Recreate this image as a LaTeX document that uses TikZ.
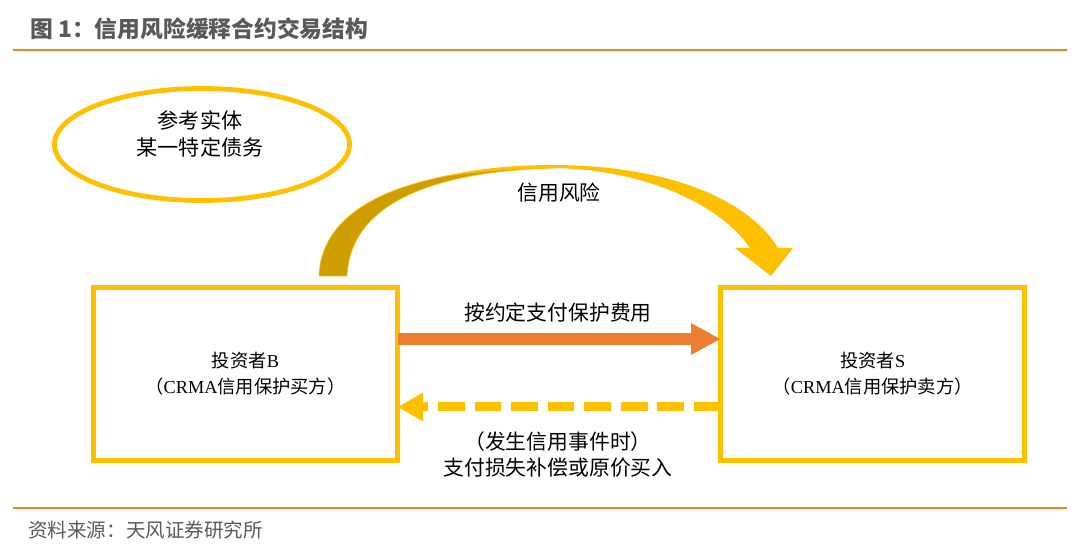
\documentclass[tikz,border=0pt]{standalone}
\usepackage{fontspec}
\setmainfont{Noto Sans CJK SC}
\newfontfamily\latin{Liberation Serif}
\usetikzlibrary{positioning,arrows.meta,shapes.geometric}
\definecolor{gold}{RGB}{255,192,0}
\definecolor{darkgold}{RGB}{206,157,0}
\definecolor{payorange}{RGB}{237,125,49}
\definecolor{ruleorange}{RGB}{240,130,40}
\definecolor{captiongray}{RGB}{89,89,89}

\begin{document}
\begin{tikzpicture}[x=0.025cm,y=-0.025cm,node distance=8.075cm,
    party node/.style={draw=gold,line width=3.6pt,minimum width=7.6cm,minimum height=4.325cm,outer sep=0pt,align=center,font=\fontsize{13}{18.5}\selectfont},
    ref node/.style={ellipse,draw=gold,line width=3.4pt,minimum width=7.375cm,minimum height=2.8cm},
    label text/.style={align=center,font=\fontsize{14.8}{18.5}\selectfont},
    pay/.style={payorange,line width=8.5pt,-{Triangle[length=21pt,width=21pt]}},
    payback/.style={gold,line width=6.4pt,dash pattern=on 19pt off 7pt,-{Triangle[length=18pt,width=19pt]}}]
\useasboundingbox (0,0) rectangle (1080,556);

% caption and rules
\node[anchor=west,inner sep=0pt,text=captiongray,font=\fontsize{16.2}{20}\selectfont\bfseries] (title) at (30,29) {图 1：信用风险缓释合约交易结构};
\draw[ruleorange,line width=1.1pt] (13,50) -- (1067,50);
\draw[ruleorange,line width=1.1pt] (13,508) -- (1067,508);
\node[anchor=west,inner sep=0pt,text=captiongray,font=\fontsize{13.9}{18}\selectfont] (source) at (28,530) {资料来源：天风证券研究所};

% reference entity
\node[ref node] (ref) at (202,144.5) {};
\node[label text,font=\fontsize{15}{19.2}\selectfont] (reftxt) at (200,133.5) {参考实体\\某一特定债务};

% the two parties
\node[party node] (B) at (245.5,374) {投资者{\latin B}\\（{\latin CRMA}信用保护买方）};
\node[party node,right=of B] (S) {投资者{\latin S}\\（{\latin CRMA}信用保护卖方）};

% credit risk transfer
\fill[darkgold,draw=gold,line width=0.5pt] (319,276) .. controls (322,200) and (420,168) .. (555,166) -- (555,168) .. controls (430,171) and (350,205) .. (347,276) -- cycle;
\fill[gold] (440,177) .. controls (475,169) and (510,165) .. (555,165) .. controls (680,166) and (752,205) .. (778,248) -- (793,248) -- (771,276) -- (735,248) -- (750,248) .. controls (722,207) and (650,170) .. (555,168) .. controls (510,169) and (475,172) .. (440,177) -- cycle;
\node[label text] (risktxt) at (559,193) {信用风险};

% payments
\coordinate (payy) at (0,339);
\coordinate (backy) at (0,407);
\draw[pay] (B.east |- payy) -- (S.west |- payy);
\draw[payback] (S.west |- backy) -- (B.east |- backy);
\node[label text] (paytxt) at (558,313) {按约定支付保护费用};
\node[label text] (backtxt) at (558,455) {（发生信用事件时）\\支付损失补偿或原价买入};
\end{tikzpicture}
\end{document}
